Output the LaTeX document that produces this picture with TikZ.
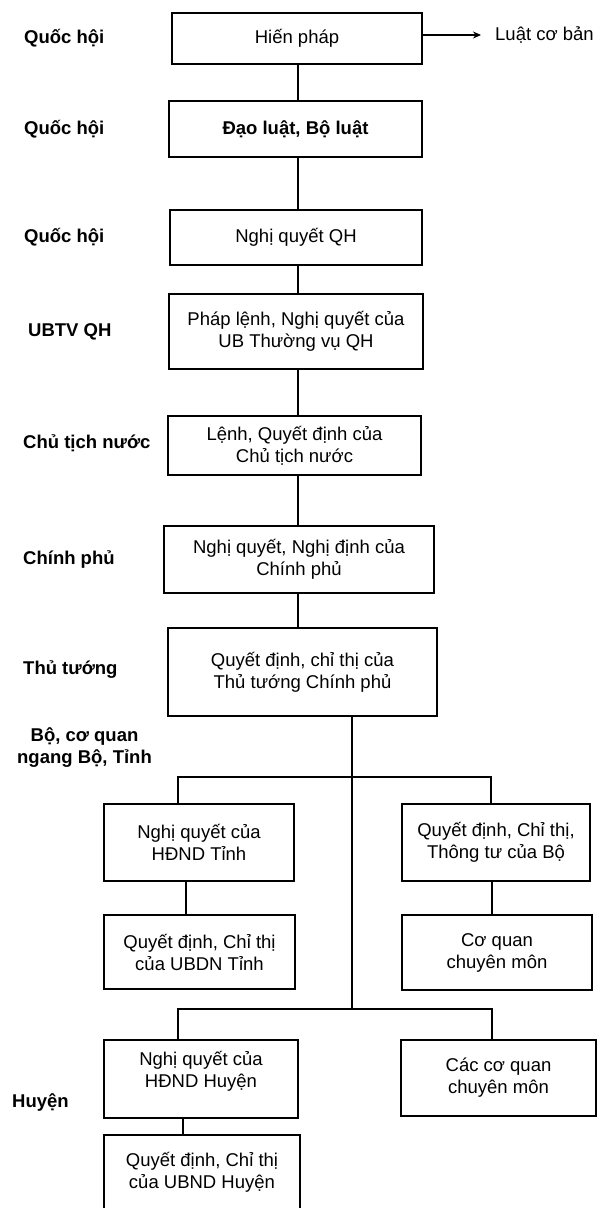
\documentclass[tikz,border=0pt]{standalone}
\usepackage{fontspec}
\setmainfont{Liberation Sans}
\usetikzlibrary{arrows.meta}
\begin{document}
\begin{tikzpicture}[x=1pt,y=-1pt,
  box/.style={draw, line width=1.2pt, align=center, inner sep=0pt, font=\fontsize{18.5}{22}\selectfont},
  txt/.style={align=center, inner sep=0pt, font=\fontsize{18.5}{22}\selectfont},
  lab/.style={anchor=west, inner sep=0pt, font=\fontsize{18.5}{22}\selectfont\bfseries},
  conn/.style={line width=1.2pt}]
\useasboundingbox (0,0) rectangle (615,1208);
\fill[white] (0,0) rectangle (615,1208);

% main column
\node[box, minimum width=250pt, minimum height=51pt] (hp) at (297,38.5) {Hiến pháp};
\node[box, minimum width=253pt, minimum height=56pt, font=\fontsize{18.5}{22}\selectfont\bfseries] (dl) at (295.5,129) {Đạo luật, Bộ luật};
\node[box, minimum width=252pt, minimum height=55pt] (nq) at (296,237.5) {Nghị quyết QH};
\node[box, minimum width=254pt, minimum height=75pt] (pl) at (296,331.5) {Pháp lệnh, Nghị quyết của\\UB Thường vụ QH};
\node[box, minimum width=253pt, minimum height=59pt] (le) at (294.5,445.5) {Lệnh, Quyết định của\\Chủ tịch nước};
\node[box, minimum width=270pt, minimum height=67pt] (cp) at (299,559.5) {Nghị quyết, Nghị định của\\Chính phủ};
\node[box, minimum width=269pt, minimum height=88pt] (tt) at (302.5,672) {Quyết định, chỉ thị của\\Thủ tướng Chính phủ};

% province level
\node[box, minimum width=190pt, minimum height=77pt] (ht) at (199,842.5) {Nghị quyết của\\HĐND Tỉnh};
\node[box, minimum width=188pt, minimum height=77pt] (tb) at (496,842.5) {Quyết định, Chỉ thị,\\Thông tư của Bộ};
\node[box, minimum width=191pt, minimum height=74pt] (ut) at (199.5,952) {Quyết định, Chỉ thị\\của UBDN Tỉnh};
\node[box, minimum width=190pt, minimum height=75pt] (cq) at (497,952.5) {Cơ quan\\chuyên môn};

% district level
\node[box, minimum width=194pt, minimum height=78pt] (hh) at (201,1079) {};
\node[txt, yshift=8pt] (hht) at (hh) {Nghị quyết của\\HĐND Huyện};
\node[box, minimum width=195pt, minimum height=76pt] (cc) at (498.5,1078) {Các cơ quan\\chuyên môn};
\node[box, minimum width=196pt, minimum height=80pt] (uh) at (202,1175) {};
\node[txt, yshift=3pt] (uht) at (uh) {Quyết định, Chỉ thị\\của UBND Huyện};

% right label
\node[txt, anchor=west] (lcb) at (495,35) {Luật cơ bản};

% left labels
\node[lab] (l1) at (24,38.5) {Quốc hội};
\node[lab] (l2) at (24,129) {Quốc hội};
\node[lab] (l3) at (24,237.5) {Quốc hội};
\node[lab] (l4) at (28,331.5) {UBTV QH};
\node[lab] (l5) at (23,443) {Chủ tịch nước};
\node[lab] (l6) at (23,559) {Chính phủ};
\node[lab] (l7) at (23,670) {Thủ tướng};
\node[lab, anchor=center, align=center] (l8) at (84.5,747.5) {Bộ, cơ quan\\ngang Bộ, Tỉnh};
\node[lab] (l9) at (12,1102) {Huyện};

% connectors
\coordinate (col) at (298,0);
\draw[conn, -{Stealth[length=8pt,width=7pt]}] (hp.east |- lcb.west) -- ([xshift=-14pt]lcb.west);
\draw[conn] (col |- hp.south) -- (col |- dl.north);
\draw[conn] (col |- dl.south) -- (col |- nq.north);
\draw[conn] (col |- nq.south) -- (col |- pl.north);
\draw[conn] (col |- pl.south) -- (col |- le.north);
\draw[conn] (col |- le.south) -- (col |- cp.north);
\draw[conn] (col |- cp.south) -- (col |- tt.north);

\coordinate (j1) at (352,777);
\coordinate (j2) at (352,1009);
\draw[conn] (j1 |- tt.south) -- (j2);

\coordinate (a1) at (178,777);
\coordinate (a2) at (491,777);
\draw[conn] (a1 |- ht.north) -- (a1) -- (a2) -- (a2 |- tb.north);
\coordinate (c1) at (186,0);
\coordinate (c2) at (492,0);
\draw[conn] (c1 |- ht.south) -- (c1 |- ut.north);
\draw[conn] (c2 |- tb.south) -- (c2 |- cq.north);

\coordinate (b1) at (178,1009);
\coordinate (b2) at (492,1009);
\draw[conn] (b1 |- hh.north) -- (b1) -- (b2) -- (b2 |- cc.north);
\coordinate (c3) at (183,0);
\draw[conn] (c3 |- hh.south) -- (c3 |- uh.north);
\end{tikzpicture}
\end{document}
